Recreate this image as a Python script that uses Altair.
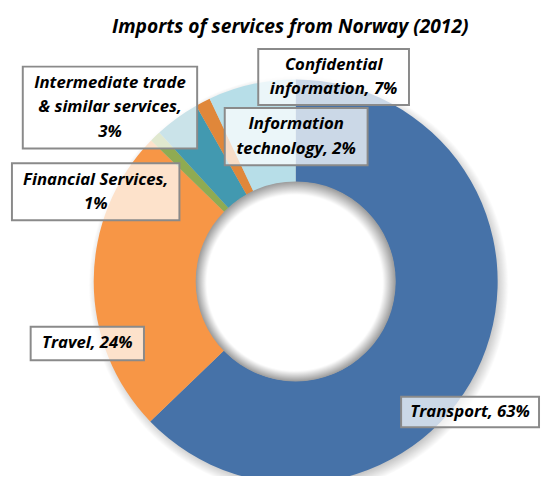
import altair as alt
import pandas as pd
import math

# ---- data ----
categories = ["Transport", "Travel", "Financial Services",
              "Intermediate trade & similar services",
              "Information technology", "Confidential information"]
shares = [62.8, 24.5, 0.9, 3.6, 1.2, 7.0]
colors = ["#4672A8", "#F79646", "#8FAB52", "#4299B0", "#E0873A", "#B7DEE8"]
label_texts = ["Transport, 63%", "Travel, 24%", "Financial Services,\n1%",
               "Intermediate trade\n& similar services,\n3%",
               "Information\ntechnology, 2%", "Confidential\ninformation, 7%"]

# ---- layout (annotation placement, chart pixel coords) ----
OX, OY = 8, 48          # page offset of plot origin
CX, CY = 300 - OX, 282 - OY
R_OUT, R_IN = 205, 101
box_x1 = [407, 31, 12, 23, 228, 262]
box_x2 = [547, 146, 182, 200, 373, 415]
box_y1 = [399, 328, 162, 64, 106, 46]
box_y2 = [430, 362, 220, 147, 164, 103]

df = pd.DataFrame({"category": categories, "share": shares, "order": range(len(categories))})
lab = pd.DataFrame({
    "text": label_texts,
    "x1": [v - OX for v in box_x1], "x2": [v - OX for v in box_x2],
    "y1": [v - OY for v in box_y1], "y2": [v - OY for v in box_y2],
})
lab["xc"] = (lab["x1"] + lab["x2"]) / 2
lab["yc"] = (lab["y1"] + lab["y2"]) / 2
lab["nlines"] = lab["text"].str.count("\n") + 1
LH = 24.5
lab["ytop"] = lab["yc"] - (lab["nlines"] - 1) * LH / 2

one = pd.DataFrame({"k": [0]})

shadow = alt.Chart(one).mark_arc(
    theta=0, theta2=2 * math.pi, radius=213,
    fill=alt.Gradient(gradient="radial", x1=0.5, y1=0.5, r1=0, x2=0.5, y2=0.5, r2=0.5,
                      stops=[alt.GradientStop(offset=0, color="rgba(90,90,90,0.45)"),
                             alt.GradientStop(offset=0.94, color="rgba(90,90,90,0.35)"),
                             alt.GradientStop(offset=1, color="rgba(90,90,90,0)")]),
).encode(x=alt.value(CX + 3), y=alt.value(CY + 4))

donut = alt.Chart(df).mark_arc(outerRadius=R_OUT, innerRadius=R_IN).encode(
    theta=alt.Theta("share:Q", stack=True),
    order=alt.Order("order:Q", sort="ascending"),
    color=alt.Color("category:N", scale=alt.Scale(domain=categories, range=colors), legend=None),
    x=alt.value(CX), y=alt.value(CY),
)

hole = alt.Chart(one).mark_arc(
    theta=0, theta2=2 * math.pi, radius=R_IN + 0.5,
    fill=alt.Gradient(gradient="radial", x1=0.46, y1=0.56, r1=0, x2=0.5, y2=0.5, r2=0.5,
                      stops=[alt.GradientStop(offset=0, color="#ffffff"),
                             alt.GradientStop(offset=0.88, color="#ffffff"),
                             alt.GradientStop(offset=1, color="#9a9a9a")]),
).encode(x=alt.value(CX), y=alt.value(CY))

boxes = alt.Chart(lab).mark_rect(
    fill="white", fillOpacity=0.72, stroke="#8a8a8a", strokeWidth=2
).encode(
    x=alt.X("x1:Q", scale=None), x2="x2:Q",
    y=alt.Y("y1:Q", scale=None), y2="y2:Q",
)

texts = alt.Chart(lab).mark_text(
    font="Open Sans", fontSize=17, fontStyle="italic", fontWeight="bold", color="black",
    align="center", baseline="middle", lineBreak="\n", lineHeight=LH,
).encode(
    x=alt.X("xc:Q", scale=None), y=alt.Y("ytop:Q", scale=None), text="text:N",
)

chart = alt.layer(shadow, donut, hole, boxes, texts).properties(
    width=541, height=428,
    autosize=alt.AutoSizeParams(type="none"),
    padding={"left": 0, "top": 40, "right": 0, "bottom": 0},
    title=alt.TitleParams("Imports of services from Norway (2012)", font="Open Sans",
                          fontSize=19.5, fontStyle="italic", fontWeight="bold",
                          color="black", anchor="middle", frame="group",
                          dx=16, offset=11),
).configure_view(stroke=None)

chart.save("out.html", embed_options={"renderer": "svg", "actions": False})
